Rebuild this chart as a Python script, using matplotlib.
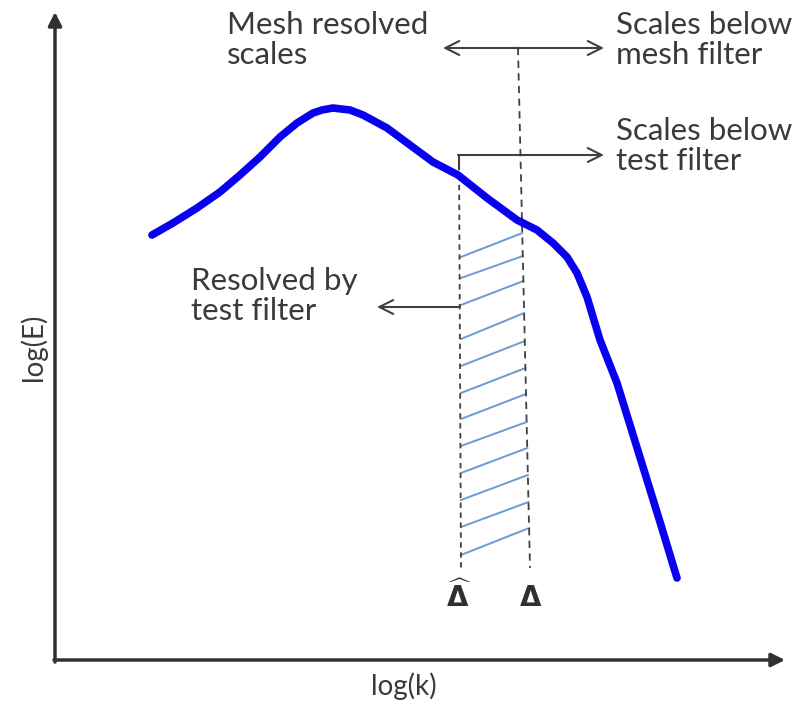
import matplotlib
matplotlib.use("Agg")
import matplotlib.pyplot as plt

# diagram units: x to the right, y downward (same frame as the picture)
curve_x = [152, 173, 197, 220, 240, 260, 280, 297, 313, 322, 333, 350, 363, 387, 410, 433, 458, 487,
           517, 537, 553, 567, 577, 587, 600, 617, 630, 643, 660, 677]
curve_y = [235, 223, 208, 192, 175, 157, 137, 123, 113, 110, 108, 110, 115, 128, 145, 162, 175, 198,
           220, 230, 243, 257, 273, 297, 340, 383, 425, 467, 522, 578]

# hatch lines between the two filter widths
hatch_left_y = [257, 278, 305, 339, 366, 393, 419, 446, 473, 500, 527, 555]
hatch_right_y = [233, 256, 281, 313, 341, 368, 394, 422, 448, 475, 502, 528]

test_filter_x = [459, 461]     # top, bottom of Delta-hat line
mesh_filter_x = [518, 530]     # top, bottom of Delta line

TXT = "#3a3a3a"
plt.rcParams["font.family"] = ["Lato", "DejaVu Sans"]
plt.rcParams["mathtext.fontset"] = "dejavusans"

fig = plt.figure(figsize=(7.98, 7.02), dpi=100)
ax = fig.add_axes([0, 0, 1, 1])
ax.set_xlim(0, 798)
ax.set_ylim(702, 0)
ax.axis("off")

# axes with arrows
ax.annotate("", xy=(55, 12), xytext=(55, 662),
            arrowprops=dict(arrowstyle="-|>", color="#303030", lw=2.5, mutation_scale=20, shrinkA=0, shrinkB=0))
ax.annotate("", xy=(785, 660), xytext=(54, 660),
            arrowprops=dict(arrowstyle="-|>", color="#303030", lw=2.5, mutation_scale=20, shrinkA=0, shrinkB=0))
ax.text(33, 347, "log(E)", rotation=90, ha="center", va="center", fontsize=20, color=TXT)
ax.text(404, 686, "log(k)", ha="center", va="center", fontsize=20, color=TXT)

# hatch
for yl, yr in zip(hatch_left_y, hatch_right_y):
    xr = mesh_filter_x[0] + (mesh_filter_x[1] - mesh_filter_x[0]) * (yr - 48) / (565 - 48)
    ax.plot([461, xr], [yl, yr], color="#6a9bd1", lw=1.4)

# filter lines
ax.plot(test_filter_x, [155, 568], color="#404040", lw=1.3, ls=(0, (3, 2.5)))
ax.plot(mesh_filter_x, [48, 568], color="#404040", lw=1.3, ls=(0, (4, 3)))

# spectrum
ax.plot(curve_x, curve_y, color="#0a00f0", lw=5.5, solid_capstyle="round", solid_joinstyle="round")

# arrows
arr = dict(arrowstyle="->", color="#404040", lw=1.5, mutation_scale=25, shrinkA=0, shrinkB=0)
ax.annotate("", xy=(443, 48), xytext=(520, 48), arrowprops=arr)
ax.annotate("", xy=(604, 48), xytext=(516, 48), arrowprops=arr)
ax.plot([459, 459], [155, 168], color="#404040", lw=1.5)
ax.annotate("", xy=(604, 155), xytext=(458, 155), arrowprops=arr)
ax.annotate("", xy=(377, 307), xytext=(460, 307), arrowprops=arr)

# labels
kw = dict(fontsize=22.5, color=TXT, va="top", ha="left", linespacing=1.1)
ax.text(227, 11, "Mesh resolved\nscales", **kw)
ax.text(616, 11, "Scales below\nmesh filter", **kw)
ax.text(616, 117, "Scales below\ntest filter", **kw)
ax.text(191, 267, "Resolved by\ntest filter", **kw)
ax.text(459, 596, r"$\widehat{\mathbf{\Delta}}$", ha="center", va="center", fontsize=20, color="#303030")
ax.text(531, 598, "Δ", ha="center", va="center", fontsize=20, color="#303030",
        family="DejaVu Sans", weight="bold")

fig.savefig("out.png", dpi=100)
